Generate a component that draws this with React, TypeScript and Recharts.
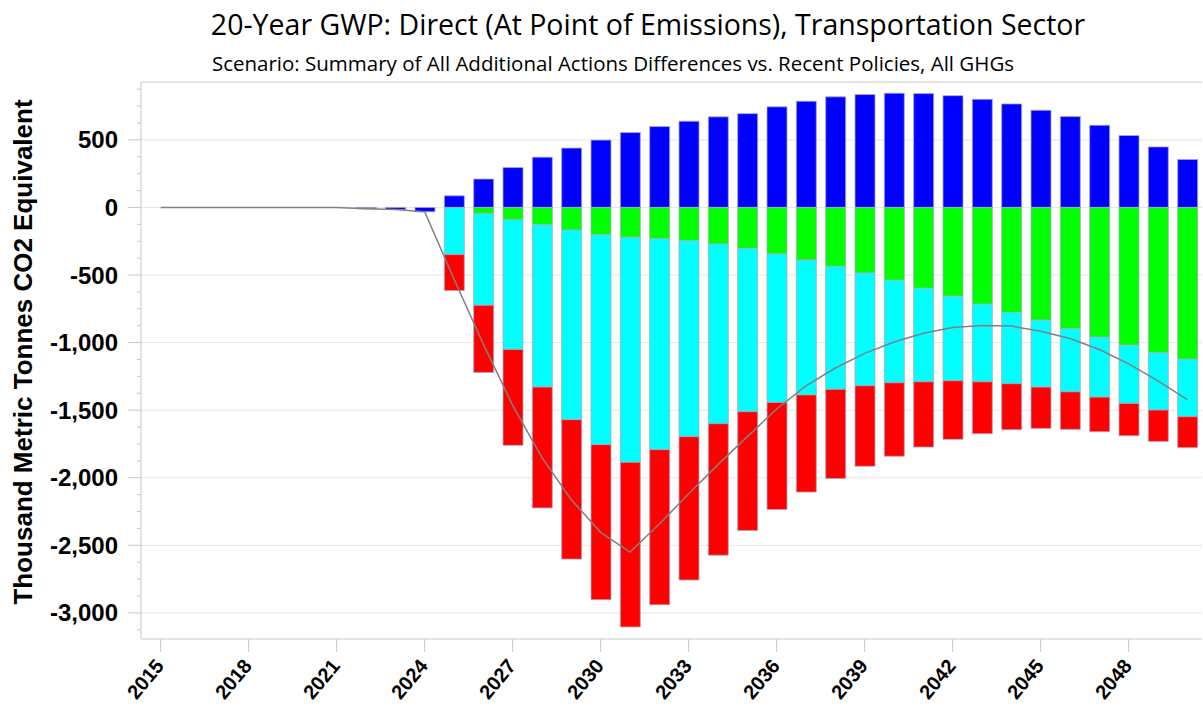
import {
  ComposedChart,
  Bar,
  Line,
  XAxis,
  YAxis,
  CartesianGrid,
  ReferenceLine,
} from "recharts";

// years on the category axis
const years = [
  "2015", "2016", "2017", "2018", "2019", "2020", "2021", "2022", "2023", "2024",
  "2025", "2026", "2027", "2028", "2029", "2030", "2031", "2032", "2033", "2034",
  "2035", "2036", "2037", "2038", "2039", "2040", "2041", "2042", "2043", "2044",
  "2045", "2046", "2047", "2048", "2049", "2050",
];

// thousand metric tonnes CO2e
const blueSeries = [
  0, 0, 0, 0, 0, 0, 0, -10, -15, -32,
  86, 210, 295, 372, 439, 498, 554, 598, 638, 670,
  694, 744, 786, 818, 835, 845, 842, 827, 800, 766,
  719, 672, 608, 532, 448, 355,
];
const greenSeries = [
  0, 0, 0, 0, 0, 0, 0, 0, 0, 0,
  0, -44, -89, -128, -167, -202, -221, -231, -246, -270,
  -303, -344, -389, -436, -485, -539, -598, -657, -716, -778,
  -834, -898, -960, -1019, -1076, -1123,
];
const cyanSeries = [
  0, 0, 0, 0, 0, 0, 0, 0, 0, 0,
  -349, -680, -962, -1201, -1403, -1553, -1665, -1561, -1450, -1330,
  -1208, -1099, -998, -910, -834, -758, -692, -625, -574, -526,
  -495, -466, -443, -431, -423, -425,
];
const redSeries = [
  0, 0, 0, 0, 0, 0, 0, 0, 0, 0,
  -266, -497, -709, -894, -1032, -1147, -1218, -1148, -1061, -973,
  -879, -792, -719, -660, -596, -544, -483, -434, -384, -340,
  -306, -278, -256, -239, -232, -229,
];

const majorTicks = [-3000, -2500, -2000, -1500, -1000, -500, 0, 500];
const Y_MIN = -3193;
const Y_MAX = 928;

const minorTicks: number[] = [];
for (let v = -3125; v <= 875; v += 125) minorTicks.push(v);

const data = years.map((year, i) => ({
  year,
  blue: blueSeries[i],
  green: greenSeries[i],
  cyan: cyanSeries[i],
  red: redSeries[i],
  net: blueSeries[i] + greenSeries[i] + cyanSeries[i] + redSeries[i],
}));

const AXIS_GRAY = "#c8c8c8";
const BAR_EDGE = "#a9a9c0";

const fmt = (v: number) => v.toLocaleString("en-US");

const YTick = (props: any) => {
  const { x, y, payload } = props;
  const v = Number(payload.value);
  const major = v % 500 === 0;
  // x is the text anchor: axis line sits tickSize + tickMargin (23px) to the right
  return (
    <g>
      <line
        x1={x + (major ? 10 : 19)}
        x2={x + 23}
        y1={y}
        y2={y}
        stroke={AXIS_GRAY}
      />
      {major && (
        <text
          x={x}
          y={y}
          textAnchor="end"
          dominantBaseline="central"
          fill="#000"
          fontSize={24}
          fontWeight="bold"
          fontFamily="'Liberation Sans', Arial, sans-serif"
        >
          {fmt(v)}
        </text>
      )}
    </g>
  );
};

const XTick = (props: any) => {
  const { x, y, payload } = props;
  return (
    <text
      transform={`translate(${x - 1},${y + 8}) rotate(-50)`}
      textAnchor="end"
      dominantBaseline="central"
      fill="#000"
      fontSize={20}
      fontWeight="bold"
      fontFamily="'Liberation Sans', Arial, sans-serif"
    >
      {payload.value}
    </text>
  );
};

export default function App() {
  return (
    <div style={{ position: "absolute", left: 0, top: 0, width: 1203, height: 706, background: "#fff" }}>
      <ComposedChart
        width={1203}
        height={706}
        data={data}
        stackOffset="sign"
        margin={{ top: 82, right: 1, bottom: 0, left: 0 }}
      >
        <CartesianGrid horizontal vertical={false} horizontalValues={majorTicks} stroke="#e6e6e6" />
        <XAxis
          dataKey="year"
          type="category"
          interval={2}
          height={67}
          padding={{ left: 5, right: 0 }}
          tickSize={13}
          tickLine={{ stroke: AXIS_GRAY }}
          axisLine={{ stroke: AXIS_GRAY }}
          tick={<XTick />}
        />
        <YAxis
          type="number"
          width={141}
          domain={[Y_MIN, Y_MAX]}
          allowDataOverflow
          ticks={minorTicks}
          interval={0}
          tickSize={13}
          tickMargin={10}
          tickLine={false}
          axisLine={{ stroke: AXIS_GRAY }}
          tick={<YTick />}
        />
        <ReferenceLine y={Y_MAX} stroke={AXIS_GRAY} />
        <Bar dataKey="blue" stackId="a" fill="#0000ff" stroke={BAR_EDGE} strokeWidth={0.8} barSize={20} isAnimationActive={false} />
        <Bar dataKey="green" stackId="a" fill="#00ff00" stroke={BAR_EDGE} strokeWidth={0.8} barSize={20} isAnimationActive={false} />
        <Bar dataKey="cyan" stackId="a" fill="#00ffff" stroke={BAR_EDGE} strokeWidth={0.8} barSize={20} isAnimationActive={false} />
        <Bar dataKey="red" stackId="a" fill="#ff0000" stroke={BAR_EDGE} strokeWidth={0.8} barSize={20} isAnimationActive={false} />
        <Line
          dataKey="net"
          type="linear"
          stroke="#808080"
          strokeWidth={1.5}
          dot={false}
          isAnimationActive={false}
        />
      </ComposedChart>

      <svg
        width={1203}
        height={706}
        style={{ position: "absolute", left: 0, top: 0, pointerEvents: "none" }}
      >
        <text
          x={648}
          y={35}
          textAnchor="middle"
          fontSize={28.5}
          fontFamily="'Open Sans', 'Noto Sans', sans-serif"
          fill="#000"
        >
          20-Year GWP: Direct (At Point of Emissions), Transportation Sector
        </text>
        <text
          x={613}
          y={71}
          textAnchor="middle"
          fontSize={20.5}
          fontFamily="'Open Sans', 'Noto Sans', sans-serif"
          fill="#000"
        >
          Scenario: Summary of All Additional Actions Differences vs. Recent Policies, All GHGs
        </text>
        <text
          transform="translate(32,352) rotate(-90)"
          textAnchor="middle"
          fontSize={26}
          fontWeight="bold"
          fontFamily="'Liberation Sans', Arial, sans-serif"
          fill="#000"
        >
          Thousand Metric Tonnes CO2 Equivalent
        </text>
      </svg>
    </div>
  );
}
